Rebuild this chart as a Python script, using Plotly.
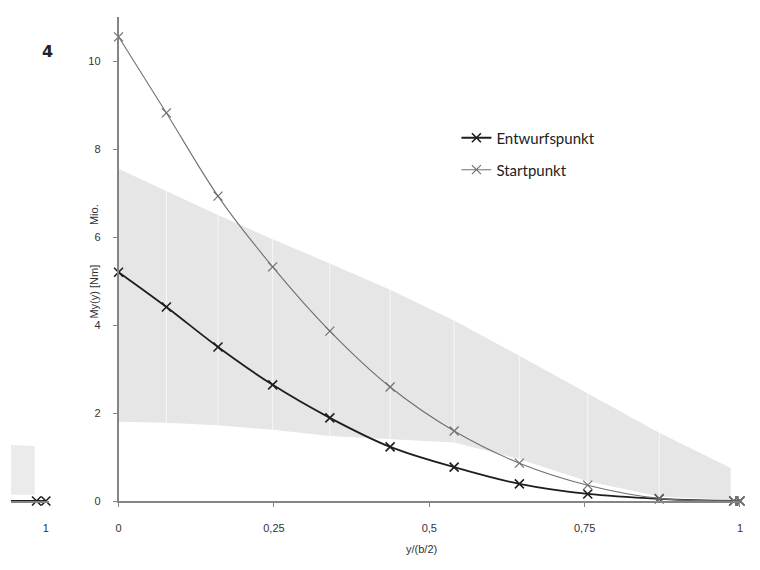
import plotly.graph_objects as go

# Spannweitenposition y/(b/2) der Stützstellen
y_rel = [0, 0.077, 0.16, 0.248, 0.34, 0.437, 0.54, 0.645, 0.755, 0.87, 0.99, 1.0]

# Biegemoment My(y) in Mio. Nm
my_entwurf = [5.2, 4.41, 3.5, 2.64, 1.89, 1.23, 0.77, 0.39, 0.16, 0.05, 0.0, 0.0]
my_start = [10.55, 8.82, 6.93, 5.32, 3.86, 2.59, 1.59, 0.86, 0.36, 0.06, 0.0, 0.0]

# zulässiger Bereich (grau hinterlegt)
band_x = [0, 0.077, 0.16, 0.248, 0.34, 0.437, 0.54, 0.645, 0.755, 0.87, 0.985]
band_upper = [7.55, 7.05, 6.5, 5.95, 5.4, 4.8, 4.1, 3.3, 2.45, 1.55, 0.75]
band_lower = [1.8, 1.78, 1.72, 1.62, 1.48, 1.4, 1.33, 0.95, 0.45, 0.1, 0.03]

# angeschnittenes Nachbardiagramm am linken Rand
frag_line_x = [0.9, 1.0]
frag_line_y = [0, 0]
frag_mark_x = [0.985, 1.0]
frag_mark_y = [0, 0]
frag_band_x = [0.9, 0.982]
frag_upper = [1.3, 1.25]
frag_lower = [0.14, 0.14]

BAND = "#e6e6e6"
AXIS = "#858585"
TXT = "#333333"

# Seite hat 8px Rand -> Figur 752x562, Plotfläche 0..732 / 9..493
W, H = 752, 562
PW = 732

fig = go.Figure()

# Band
fig.add_trace(go.Scatter(x=band_x, y=band_lower, mode="lines", line=dict(width=0),
    showlegend=False, hoverinfo="skip"))
fig.add_trace(go.Scatter(x=band_x, y=band_upper, mode="lines", line=dict(width=0),
    fill="tonexty", fillcolor=BAND, showlegend=False, hoverinfo="skip"))

# helle Trennlinien im Band
vx, vy = [], []
for xi, lo, hi in zip(band_x[1:-1], band_lower[1:-1], band_upper[1:-1]):
    vx += [xi, xi, None]
    vy += [lo, hi, None]
fig.add_trace(go.Scatter(x=vx, y=vy, mode="lines", line=dict(color="#f7f7f7", width=1),
    showlegend=False, hoverinfo="skip"))

fig.add_trace(go.Scatter(x=y_rel, y=my_entwurf, name="Entwurfspunkt", mode="lines+markers",
    line=dict(color="#1e1e1e", width=1.8, shape="spline"),
    marker=dict(symbol="x-thin", size=9, line=dict(width=1.6, color="#1e1e1e")),
    cliponaxis=False, legend="legend"))
fig.add_trace(go.Scatter(x=y_rel, y=my_start, name="Startpunkt", mode="lines+markers",
    line=dict(color="#707070", width=1.1, shape="spline"),
    marker=dict(symbol="x-thin", size=9, line=dict(width=1.2, color="#707070")),
    cliponaxis=False, legend="legend2"))

# Fragment links
fig.add_trace(go.Scatter(x=frag_band_x, y=frag_lower, xaxis="x2", yaxis="y2", mode="lines",
    line=dict(width=0), showlegend=False, hoverinfo="skip"))
fig.add_trace(go.Scatter(x=frag_band_x, y=frag_upper, xaxis="x2", yaxis="y2", mode="lines",
    line=dict(width=0), fill="tonexty", fillcolor="#ebebeb", showlegend=False, hoverinfo="skip"))
fig.add_trace(go.Scatter(x=frag_line_x, y=frag_line_y, xaxis="x2", yaxis="y2", mode="lines",
    line=dict(color="#1e1e1e", width=1.8), showlegend=False))
fig.add_trace(go.Scatter(x=frag_mark_x, y=frag_mark_y, xaxis="x2", yaxis="y2", mode="markers",
    marker=dict(symbol="x-thin", size=9, line=dict(width=1.6, color="#1e1e1e")),
    cliponaxis=False, showlegend=False))

tickfont = dict(family="Liberation Sans, Arial", size=11, color=TXT)
legfont = dict(family="Lato, Open Sans", size=15, color="#222222")

fig.update_layout(
    width=W, height=H,
    plot_bgcolor="white", paper_bgcolor="white",
    margin=dict(l=0, r=W - PW, t=9, b=69),
    xaxis=dict(domain=[108 / PW, 1], range=[0, 1], tickvals=[0, 0.25, 0.5, 0.75, 1],
        ticktext=["0", "0,25", "0,5", "0,75", "1"], showgrid=False, zeroline=False,
        showline=True, linecolor=AXIS, linewidth=2, ticks="outside", ticklen=4,
        tickcolor=AXIS, tickfont=tickfont, ticklabelstandoff=12),
    yaxis=dict(range=[0, 11], tickvals=[0, 2, 4, 6, 8, 10], showgrid=False, zeroline=False,
        showline=True, linecolor=AXIS, linewidth=1.5, ticks="outside", ticklen=4,
        tickcolor=AXIS, tickfont=tickfont, ticklabelstandoff=10),
    xaxis2=dict(domain=[0, 38 / PW], range=[1 - 35 / 624, 1 + 3 / 624], anchor="y2",
        tickvals=[1], ticktext=["1"], showgrid=False, zeroline=False, showline=True,
        linecolor=AXIS, linewidth=2, ticks="", tickfont=tickfont, ticklabelstandoff=16),
    yaxis2=dict(range=[0, 11], anchor="x2", visible=False),
    legend=dict(x=0.611, y=0.75, xanchor="left", yanchor="middle", font=legfont,
        bgcolor="rgba(0,0,0,0)"),
    legend2=dict(x=0.611, y=0.684, xanchor="left", yanchor="middle", font=legfont,
        bgcolor="rgba(0,0,0,0)"),
    annotations=[
        dict(text="<b>4</b>", x=37 / PW, y=0.928, xref="paper", yref="paper",
            xanchor="center", yanchor="middle", showarrow=False,
            font=dict(family="DejaVu Sans", size=16, color="#222222")),
        dict(text="My(y) [Nm]" + "&nbsp;" * 13 + "Mio.", textangle=-90, x=83 / PW,
            y=0.494, xref="paper", yref="paper", xanchor="center", yanchor="middle",
            showarrow=False, font=dict(family="Liberation Sans, Arial", size=11, color=TXT)),
        dict(text="y/(b/2)", x=412 / PW, y=-0.1, xref="paper", yref="paper",
            xanchor="center", yanchor="middle", showarrow=False,
            font=dict(family="Liberation Sans, Arial", size=11, color=TXT)),
    ],
)

fig.write_html("out.html")
